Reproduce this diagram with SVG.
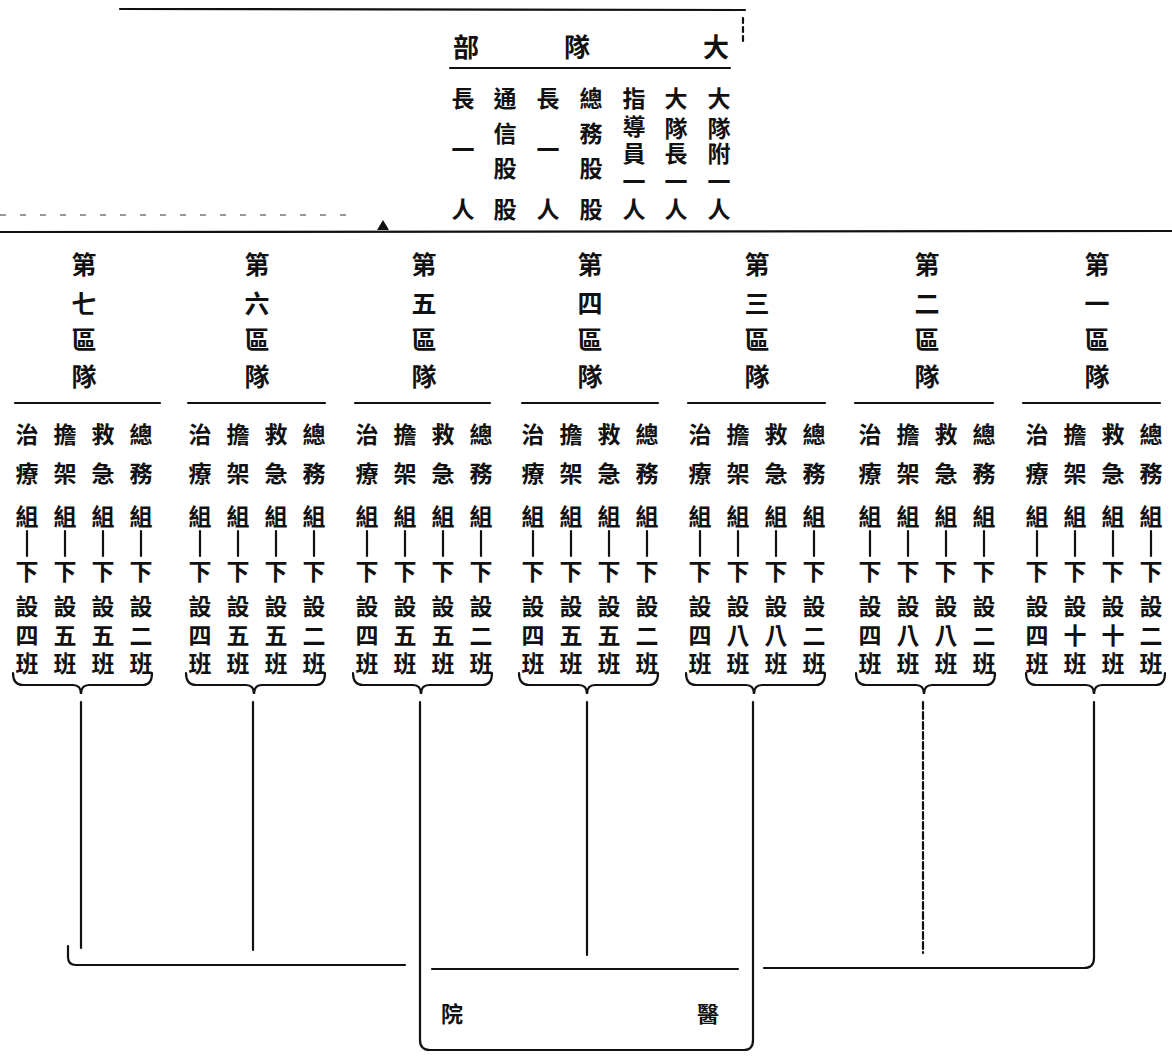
<svg xmlns="http://www.w3.org/2000/svg" width="1172" height="1058" viewBox="0 0 1172 1058">
<style>
text{font-family:"Noto Sans CJK TC","Noto Sans CJK SC","Noto Sans CJK JP",sans-serif;font-weight:700;fill:#111;text-anchor:middle;dominant-baseline:central}
.t1{font-size:26px}
.st{font-size:23px}
.hd{font-size:25px}
.sb{font-size:23px}
.bx{font-size:22px}
.ln{stroke:#111;stroke-width:2.2;fill:none;stroke-linecap:round}
.fa{stroke:#777;stroke-width:1.5;fill:none;stroke-dasharray:6 14}
</style>
<defs>
<g id="brace">
<path class="ln" d="M-14,673 Q-14,685 -4,685 L46,685 Q54,685 54,694 Q54,685 62,685 L116,685 Q125,685 125,673"/>
</g>
</defs>
<rect width="1172" height="1058" fill="#fff"/>

<g id="connectors">
<line class="ln" x1="120" y1="9" x2="745" y2="10"/>
<line class="ln" x1="743" y1="18" x2="743" y2="42" stroke-dasharray="5 4"/>
<line class="ln" x1="450" y1="68" x2="730" y2="68"/>
<line class="fa" x1="0" y1="215" x2="355" y2="215"/>
<line class="ln" x1="0" y1="232" x2="1172" y2="231"/>
<path d="M377,230 L383,220 L389,230 Z" fill="#111"/>
</g>

<g id="hq">
<text class="t1" x="716" y="45">大</text>
<text class="t1" x="577" y="45">隊</text>
<text class="t1" x="466" y="45">部</text>
<text class="st" x="719 719 719 719 719" y="97 127 152 180 208">大隊附一人</text>
<text class="st" x="676 676 676 676 676" y="97 127 152 180 208">大隊長一人</text>
<text class="st" x="634 634 634 634 634" y="97 125 152 180 208">指導員一人</text>
<text class="st" x="591 591 591 591" y="97 132 167 208">總務股股</text>
<text class="st" x="548 548 548" y="97 148 208">長一人</text>
<text class="st" x="505 505 505 505" y="97 132 167 208">通信股股</text>
<text class="st" x="463 463 463" y="97 148 208">長一人</text>
</g>

<g id="group7" transform="translate(27,0)">
<text class="hd" x="57 57 57 57" y="263 302 338 375">第七區隊</text>
<line class="ln" x1="-12" y1="403" x2="133" y2="403"/>
<text class="sb" x="0 0 0" y="433 472 515">治療組</text>
<text class="sb" x="0 0 0 0" y="570 605 634 662">下設四班</text>
<text class="sb" x="38 38 38" y="433 472 515">擔架組</text>
<text class="sb" x="38 38 38 38" y="570 605 634 662">下設五班</text>
<text class="sb" x="76 76 76" y="433 472 515">救急組</text>
<text class="sb" x="76 76 76 76" y="570 605 634 662">下設五班</text>
<text class="sb" x="114 114 114" y="433 472 515">總務組</text>
<text class="sb" x="114 114 114 114" y="570 605 634 662">下設二班</text>
<path class="ln" d="M0,531V556M38,531V556M76,531V556M114,531V556"/>
<use href="#brace"/>
<line class="ln" x1="54" y1="702" x2="54" y2="948"/>
</g>

<g id="group6" transform="translate(200,0)">
<text class="hd" x="57 57 57 57" y="263 302 338 375">第六區隊</text>
<line class="ln" x1="-12" y1="403" x2="125" y2="403"/>
<text class="sb" x="0 0 0" y="433 472 515">治療組</text>
<text class="sb" x="0 0 0 0" y="570 605 634 662">下設四班</text>
<text class="sb" x="38 38 38" y="433 472 515">擔架組</text>
<text class="sb" x="38 38 38 38" y="570 605 634 662">下設五班</text>
<text class="sb" x="76 76 76" y="433 472 515">救急組</text>
<text class="sb" x="76 76 76 76" y="570 605 634 662">下設五班</text>
<text class="sb" x="114 114 114" y="433 472 515">總務組</text>
<text class="sb" x="114 114 114 114" y="570 605 634 662">下設二班</text>
<path class="ln" d="M0,531V556M38,531V556M76,531V556M114,531V556"/>
<use href="#brace"/>
<line class="ln" x1="53" y1="702" x2="53" y2="950"/>
</g>

<g id="group5" transform="translate(367,0)">
<text class="hd" x="57 57 57 57" y="263 302 338 375">第五區隊</text>
<line class="ln" x1="-12" y1="403" x2="123" y2="403"/>
<text class="sb" x="0 0 0" y="433 472 515">治療組</text>
<text class="sb" x="0 0 0 0" y="570 605 634 662">下設四班</text>
<text class="sb" x="38 38 38" y="433 472 515">擔架組</text>
<text class="sb" x="38 38 38 38" y="570 605 634 662">下設五班</text>
<text class="sb" x="76 76 76" y="433 472 515">救急組</text>
<text class="sb" x="76 76 76 76" y="570 605 634 662">下設五班</text>
<text class="sb" x="114 114 114" y="433 472 515">總務組</text>
<text class="sb" x="114 114 114 114" y="570 605 634 662">下設二班</text>
<path class="ln" d="M0,531V556M38,531V556M76,531V556M114,531V556"/>
<use href="#brace"/>
</g>

<g id="group4" transform="translate(533,0)">
<text class="hd" x="57 57 57 57" y="263 302 338 375">第四區隊</text>
<line class="ln" x1="-11" y1="403" x2="125" y2="403"/>
<text class="sb" x="0 0 0" y="433 472 515">治療組</text>
<text class="sb" x="0 0 0 0" y="570 605 634 662">下設四班</text>
<text class="sb" x="38 38 38" y="433 472 515">擔架組</text>
<text class="sb" x="38 38 38 38" y="570 605 634 662">下設五班</text>
<text class="sb" x="76 76 76" y="433 472 515">救急組</text>
<text class="sb" x="76 76 76 76" y="570 605 634 662">下設五班</text>
<text class="sb" x="114 114 114" y="433 472 515">總務組</text>
<text class="sb" x="114 114 114 114" y="570 605 634 662">下設二班</text>
<path class="ln" d="M0,531V556M38,531V556M76,531V556M114,531V556"/>
<use href="#brace"/>
<line class="ln" x1="54" y1="702" x2="54" y2="955"/>
</g>

<g id="group3" transform="translate(700,0)">
<text class="hd" x="57 57 57 57" y="263 302 338 375">第三區隊</text>
<line class="ln" x1="-12" y1="403" x2="125" y2="403"/>
<text class="sb" x="0 0 0" y="433 472 515">治療組</text>
<text class="sb" x="0 0 0 0" y="570 605 634 662">下設四班</text>
<text class="sb" x="38 38 38" y="433 472 515">擔架組</text>
<text class="sb" x="38 38 38 38" y="570 605 634 662">下設八班</text>
<text class="sb" x="76 76 76" y="433 472 515">救急組</text>
<text class="sb" x="76 76 76 76" y="570 605 634 662">下設八班</text>
<text class="sb" x="114 114 114" y="433 472 515">總務組</text>
<text class="sb" x="114 114 114 114" y="570 605 634 662">下設二班</text>
<path class="ln" d="M0,531V556M38,531V556M76,531V556M114,531V556"/>
<use href="#brace"/>
</g>

<g id="group2" transform="translate(870,0)">
<text class="hd" x="57 57 57 57" y="263 302 338 375">第二區隊</text>
<line class="ln" x1="-15" y1="403" x2="123" y2="403"/>
<text class="sb" x="0 0 0" y="433 472 515">治療組</text>
<text class="sb" x="0 0 0 0" y="570 605 634 662">下設四班</text>
<text class="sb" x="38 38 38" y="433 472 515">擔架組</text>
<text class="sb" x="38 38 38 38" y="570 605 634 662">下設八班</text>
<text class="sb" x="76 76 76" y="433 472 515">救急組</text>
<text class="sb" x="76 76 76 76" y="570 605 634 662">下設八班</text>
<text class="sb" x="114 114 114" y="433 472 515">總務組</text>
<text class="sb" x="114 114 114 114" y="570 605 634 662">下設二班</text>
<path class="ln" d="M0,531V556M38,531V556M76,531V556M114,531V556"/>
<use href="#brace"/>
<line class="ln" x1="53" y1="702" x2="53" y2="953" stroke-dasharray="7 3"/>
</g>

<g id="group1" transform="translate(1037,0)">
<text class="hd" x="60 60 60 60" y="263 302 338 375">第一區隊</text>
<line class="ln" x1="-14" y1="403" x2="123" y2="403"/>
<text class="sb" x="0 0 0" y="433 472 515">治療組</text>
<text class="sb" x="0 0 0 0" y="570 605 634 662">下設四班</text>
<text class="sb" x="38 38 38" y="433 472 515">擔架組</text>
<text class="sb" x="38 38 38 38" y="570 605 634 662">下設十班</text>
<text class="sb" x="76 76 76" y="433 472 515">救急組</text>
<text class="sb" x="76 76 76 76" y="570 605 634 662">下設十班</text>
<text class="sb" x="114 114 114" y="433 472 515">總務組</text>
<text class="sb" x="114 114 114 114" y="570 605 634 662">下設二班</text>
<path class="ln" d="M0,531V556M38,531V556M76,531V556M114,531V556"/>
<g transform="translate(3,0)"><use href="#brace"/></g>
</g>

<g id="links">
<path class="ln" d="M405,965 L76,965 Q68,965 68,957 L68,946"/>
<path class="ln" d="M1094,702 L1094,958 Q1094,968 1084,968 L764,968"/>
</g>

<g id="hospital">
<path class="ln" d="M420,702 L420,1040 Q420,1050 430,1050 L744,1050 Q753,1050 753,1040 L753,702"/>
<line class="ln" x1="432" y1="969" x2="738" y2="969"/>
<text class="bx" x="452" y="1012">院</text>
<text class="bx" x="708" y="1012">醫</text>
</g>
</svg>
